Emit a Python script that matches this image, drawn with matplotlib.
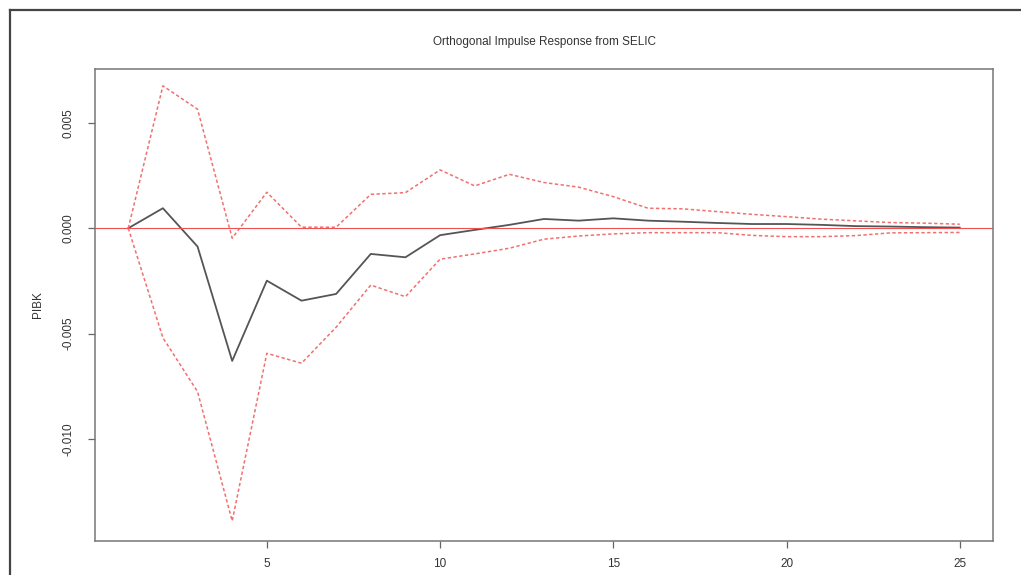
import matplotlib
matplotlib.use("Agg")
import matplotlib.pyplot as plt
from matplotlib.lines import Line2D

# Datos (horizonte 1..25)
horizonte = list(range(1, 26))
respuesta = [0.0, 0.00095, -0.00087, -0.0063, -0.00249, -0.00344, -0.00312,
             -0.00122, -0.00138, -0.00033, -0.00008, 0.00016, 0.00044, 0.00036,
             0.00047, 0.00036, 0.00031, 0.00025, 0.0002, 0.0002, 0.00016,
             0.0001, 0.00008, 0.00005, 0.00003]
banda_sup = [0.0, 0.00676, 0.00565, -0.00047, 0.00171, 0.00005, 0.00005,
             0.00161, 0.00169, 0.00277, 0.00201, 0.00256, 0.00217, 0.00195,
             0.0015, 0.00095, 0.00092, 0.00079, 0.00066, 0.00055, 0.00043,
             0.00035, 0.00027, 0.00024, 0.00019]
banda_inf = [0.0, -0.0052, -0.00776, -0.0139, -0.00594, -0.00641, -0.0047,
             -0.0027, -0.00325, -0.00147, -0.00122, -0.00095, -0.00052,
             -0.00037, -0.00027, -0.00021, -0.00021, -0.00021, -0.00034,
             -0.0004, -0.0004, -0.00035, -0.00022, -0.00021, -0.0002]
xticks = [5, 10, 15, 20, 25]
yticks = [-0.010, -0.005, 0.000, 0.005]

plt.rcParams["font.family"] = ["Liberation Sans", "DejaVu Sans"]

fig = plt.figure(figsize=(10.21, 5.75), dpi=100)
ax = fig.add_axes([95 / 1021, 1 - 541 / 575, (993 - 95) / 1021, (541 - 69) / 575])

# Marco exterior (solo borde izquierdo y superior visibles)
fig.add_artist(Line2D([10 / 1021, 10 / 1021], [0, 1 - 10 / 575],
                      transform=fig.transFigure, color="#444444", lw=1.6))
fig.add_artist(Line2D([10 / 1021, 1], [1 - 10 / 575, 1 - 10 / 575],
                      transform=fig.transFigure, color="#444444", lw=1.6))

ax.plot(horizonte, respuesta, color="#555555", lw=1.3)
ax.plot(horizonte, banda_sup, color="#f07070", lw=1.1, ls=(0, (2.2, 1.6)))
ax.plot(horizonte, banda_inf, color="#f07070", lw=1.1, ls=(0, (2.2, 1.6)))
ax.axhline(0, color="#f05050", lw=0.8)

ax.set_xlim(0.04, 25.96)
ax.set_ylim(-0.01485, 0.00756)
ax.set_xticks(xticks)
ax.set_yticks(yticks)
ax.set_yticklabels([f"{v:.3f}" for v in yticks], rotation=90, va="center")
ax.tick_params(direction="out", length=5, width=0.9, color="#666666",
               labelsize=8.5, labelcolor="#333333")
ax.tick_params(axis="y", pad=10)
ax.tick_params(axis="x", pad=7)
for s in ax.spines.values():
    s.set_color("#777777")
    s.set_linewidth(1.1)

ax.set_ylabel("PIBK", fontsize=8.5, color="#333333", labelpad=13)
fig.text(544 / 1021, 1 - 42 / 575, "Orthogonal Impulse Response from SELIC",
         ha="center", va="center", fontsize=8.5, color="#333333")

fig.savefig("out.png", dpi=100)
